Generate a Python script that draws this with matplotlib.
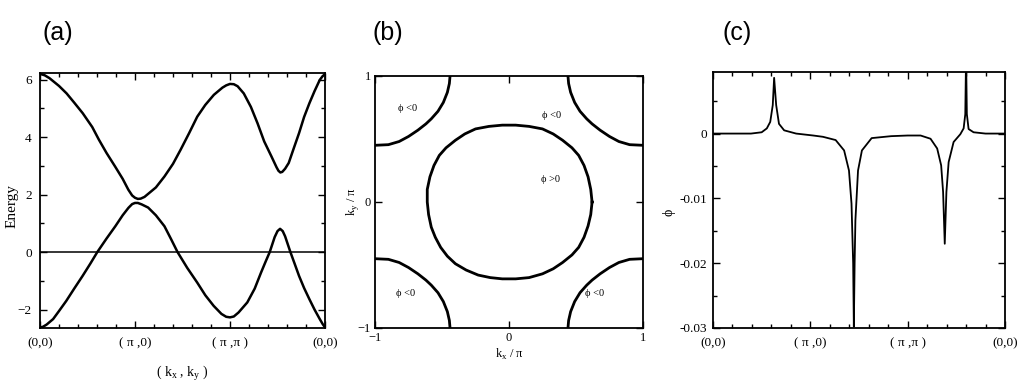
import numpy as np
import matplotlib
matplotlib.use("Agg")
import matplotlib.pyplot as plt
from matplotlib.ticker import MultipleLocator

plt.rcParams["font.family"] = ["Liberation Serif", "DejaVu Serif"]

# (a) band structure along (0,0)-(pi,0)-(pi,pi)-(0,0)
path_ticks = [0, 1, 2, 3]
path_labels = ["(0,0)", "( \u03c0 ,0)", "( \u03c0 ,\u03c0 )", "(0,0)"]

up_k = [0.00, 0.05, 0.10, 0.20, 0.28, 0.36, 0.45, 0.55, 0.62, 0.70, 0.79, 0.87, 0.93,
        0.97, 1.00, 1.03, 1.06, 1.10, 1.14, 1.22, 1.31, 1.40, 1.48, 1.57, 1.655, 1.74,
        1.83, 1.92, 1.96, 2.00, 2.04, 2.08, 2.145, 2.22, 2.29, 2.36, 2.436, 2.49, 2.51,
        2.53, 2.55, 2.58, 2.618, 2.67, 2.727, 2.78, 2.836, 2.89, 2.945, 2.975, 3.00]
up_e = [6.20, 6.15, 6.05, 5.78, 5.52, 5.20, 4.83, 4.35, 3.91, 3.45, 2.98, 2.55, 2.17,
        1.97, 1.89, 1.85, 1.86, 1.92, 2.03, 2.25, 2.63, 3.07, 3.56, 4.14, 4.71, 5.12,
        5.47, 5.72, 5.80, 5.85, 5.84, 5.77, 5.52, 5.05, 4.48, 3.85, 3.33, 2.95, 2.83,
        2.77, 2.79, 2.90, 3.10, 3.60, 4.14, 4.70, 5.18, 5.60, 5.99, 6.12, 6.19]

lo_k = [0.00, 0.03, 0.07, 0.138, 0.20, 0.276, 0.36, 0.448, 0.53, 0.603, 0.70, 0.793,
        0.87, 0.931, 0.97, 1.00, 1.03, 1.07, 1.138, 1.22, 1.31, 1.38, 1.448, 1.55,
        1.655, 1.74, 1.828, 1.91, 1.96, 2.00, 2.04, 2.09, 2.182, 2.26, 2.327, 2.375,
        2.418, 2.47, 2.50, 2.527, 2.555, 2.58, 2.636, 2.68, 2.727, 2.78, 2.836, 2.89,
        2.945, 2.975, 3.00]
lo_e = [-2.62, -2.60, -2.52, -2.33, -2.05, -1.70, -1.27, -0.83, -0.40, 0.0, 0.47, 0.90,
        1.28, 1.54, 1.67, 1.71, 1.71, 1.66, 1.55, 1.28, 0.90, 0.45, 0.0, -0.55,
        -1.06, -1.50, -1.87, -2.15, -2.25, -2.27, -2.24, -2.10, -1.75, -1.27, -0.71,
        -0.33, 0.0, 0.52, 0.73, 0.81, 0.73, 0.55, 0.0, -0.40, -0.83, -1.25, -1.64,
        -2.00, -2.33, -2.50, -2.62]

# (b) Fermi surface: central loop and one corner arc (others by symmetry)
loop_kx = [0.62, 0.61, 0.59, 0.56, 0.52, 0.47, 0.40, 0.33, 0.25, 0.15, 0.05, 0.0,
           -0.05, -0.15, -0.25, -0.33, -0.40, -0.47, -0.52, -0.56, -0.59, -0.61, -0.61,
           -0.60, -0.58, -0.55, -0.51, -0.46, -0.40, -0.32, -0.23, -0.14, -0.05, 0.0,
           0.05, 0.15, 0.25, 0.33, 0.40, 0.47, 0.52, 0.56, 0.59, 0.61, 0.62]
loop_ky = [0.0, 0.10, 0.20, 0.29, 0.37, 0.43, 0.49, 0.54, 0.58, 0.60, 0.61, 0.61,
           0.61, 0.60, 0.58, 0.54, 0.49, 0.43, 0.37, 0.29, 0.20, 0.10, 0.0,
           -0.10, -0.20, -0.28, -0.36, -0.43, -0.49, -0.54, -0.58, -0.60, -0.61, -0.61,
           -0.61, -0.60, -0.57, -0.53, -0.48, -0.42, -0.36, -0.28, -0.19, -0.10, 0.0]
arc_dx = [0.56, 0.555, 0.54, 0.51, 0.47, 0.42, 0.38, 0.32, 0.25, 0.18, 0.10, 0.0]
arc_dy = [0.0, 0.06, 0.13, 0.21, 0.28, 0.34, 0.38, 0.43, 0.48, 0.52, 0.545, 0.55]
corners = [(-1, 1), (1, 1), (-1, -1), (1, -1)]
sign_labels = ["\u03d5 <0", "\u03d5 <0", "\u03d5 >0", "\u03d5 <0", "\u03d5 <0"]
sign_kx = [-0.76, 0.32, 0.31, -0.77, 0.64]
sign_ky = [0.74, 0.69, 0.18, -0.73, -0.73]

# (c) phi along the same path
phi_k = [0.00, 0.30, 0.39, 0.50, 0.553, 0.588, 0.614, 0.628, 0.649, 0.678, 0.731,
         0.854, 1.03, 1.13, 1.26, 1.347, 1.397, 1.423, 1.440, 1.447, 1.455, 1.463,
         1.49, 1.53, 1.63, 1.83, 2.00, 2.133, 2.235, 2.303, 2.344, 2.364, 2.381,
         2.398, 2.421, 2.472, 2.541, 2.575, 2.592, 2.600, 2.608, 2.626, 2.677,
         2.80, 3.00]
phi_v = [0.0, 0.0, 0.0, 0.0002, 0.0008, 0.0018, 0.0044, 0.0086, 0.0044, 0.0015, 0.0005,
         0.0, -0.0003, -0.0005, -0.0010, -0.0026, -0.0057, -0.0108, -0.0200, -0.0298,
         -0.0200, -0.0134, -0.0057, -0.0026, -0.0007, -0.0004, -0.0003, -0.0003,
         -0.0008, -0.0023, -0.0049, -0.0090, -0.0170, -0.0090, -0.0044, -0.0013,
         -0.0001, 0.0008, 0.0030, 0.0120, 0.0030, 0.0007, 0.0002, 0.0, 0.0]

fig = plt.figure(figsize=(10.19, 3.82), dpi=100)
W, H = 1019, 382


def rect(l, r, t, b):
    return [l / W, 1 - b / H, (r - l) / W, (b - t) / H]


def style(ax):
    for s in ax.spines.values():
        s.set_linewidth(1.3)
    ax.tick_params(which="both", direction="in", top=True, right=True, width=1.0)
    ax.tick_params(which="major", length=5)
    ax.tick_params(which="minor", length=3)


# (a)
ax1 = fig.add_axes(rect(40, 325, 73, 328))
ax1.plot(up_k, up_e, color="black", lw=1.8, solid_joinstyle="round")
ax1.plot(lo_k, lo_e, color="black", lw=1.8, solid_joinstyle="round")
ax1.axhline(0, color="black", lw=1.1)
ax1.set_xlim(0, 3)
ax1.set_ylim(-2.64, 6.23)
ax1.set_xticks(path_ticks)
ax1.set_xticklabels(path_labels)
ax1.xaxis.set_minor_locator(MultipleLocator(0.2))
ax1.set_yticks([-2, 0, 2, 4, 6])
ax1.yaxis.set_minor_locator(MultipleLocator(1))
style(ax1)
ax1.tick_params(labelsize=9.5, pad=7)
ax1.tick_params(axis="y", pad=6)
ax1.set_ylabel("Energy", fontsize=11)
ax1.yaxis.set_label_coords(-21 / 285, 0.48)
ax1.set_xlabel("( k$_\\mathregular{x}$ , k$_\\mathregular{y}$ )", fontsize=10)
ax1.xaxis.set_label_coords(0.5, -(364 - 328) / 255)

# (b)
ax2 = fig.add_axes(rect(375, 643, 76, 328))
ax2.plot(loop_kx, loop_ky, color="black", lw=2.0, solid_joinstyle="round")
for cx, cy in corners:
    ax2.plot(cx - np.sign(cx) * np.array(arc_dx), cy - np.sign(cy) * np.array(arc_dy),
             color="black", lw=2.0, solid_joinstyle="round")
for lab, x, y in zip(sign_labels, sign_kx, sign_ky):
    ax2.text(x, y, lab, fontsize=7.5, ha="center", va="center")
ax2.set_xlim(-1, 1)
ax2.set_ylim(-1, 1)
ax2.set_xticks([-1, 0, 1])
ax2.set_yticks([-1, 0, 1])
style(ax2)
ax2.tick_params(labelsize=9, pad=3)
ax2.set_xlabel("k$_\\mathregular{x}$ / \u03c0", fontsize=9)
ax2.xaxis.set_label_coords(0.5, -(347 - 328) / 252)
ax2.set_ylabel("k$_\\mathregular{y}$ / \u03c0", fontsize=9)
ax2.yaxis.set_label_coords(-(375 - 361) / 268, 0.5)

# (c)
ax3 = fig.add_axes(rect(713, 1005, 72, 328))
ax3.plot(phi_k, phi_v, color="black", lw=1.3, solid_joinstyle="round")
ax3.set_xlim(0, 3)
ax3.set_ylim(-0.03, 0.0095)
ax3.set_xticks(path_ticks)
ax3.set_xticklabels(path_labels)
ax3.xaxis.set_minor_locator(MultipleLocator(0.2))
ax3.set_yticks([-0.03, -0.02, -0.01, 0])
ax3.set_yticklabels(["-0.03", "-0.02", "-0.01", "0"])
ax3.yaxis.set_minor_locator(MultipleLocator(0.005))
style(ax3)
ax3.tick_params(labelsize=9.5, pad=7)
ax3.tick_params(axis="y", pad=4)
ax3.set_ylabel("\u03d5", fontsize=10)
ax3.yaxis.set_label_coords(-(713 - 675) / 292, 0.45)

for lab, x in zip(["(a)", "(b)", "(c)"], [42, 373, 723]):
    fig.text(x / W, 1 - 33 / H, lab, fontsize=18, family="Liberation Sans",
             ha="left", va="center")

fig.savefig("out.png", dpi=100)
